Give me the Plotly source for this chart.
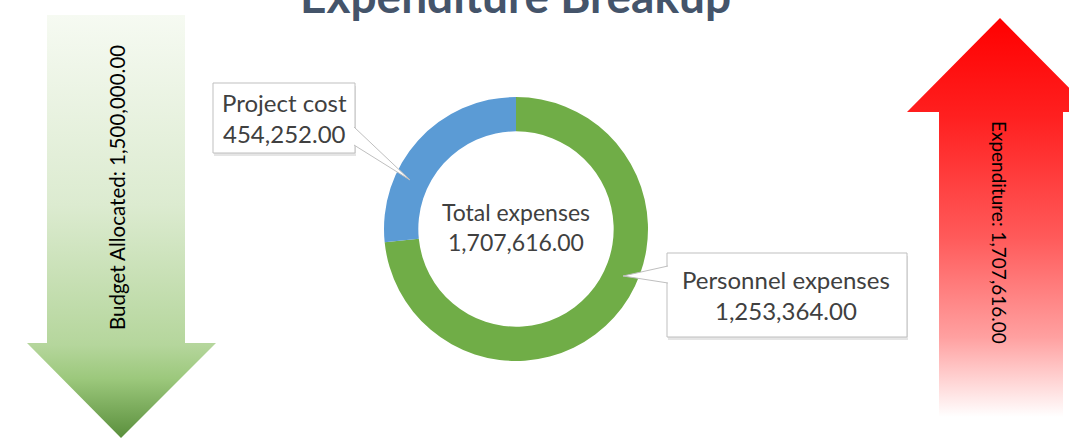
import plotly.graph_objects as go

# ---- data ----
categories = ["Personnel expenses", "Project cost"]
amounts = [1253364.00, 454252.00]
slice_colors = ["#70ad47", "#5b9bd5"]
budget_allocated = 1500000.00
expenditure = 1707616.00
title_text = "Expenditure Breakup"

W, H = 1069, 439
FONT = "Lato"
total = sum(amounts)


def money(v):
    return f"{v:,.2f}"


fig = go.Figure()

# ---- arrows (pixel geometry, y measured from the top) ----
down_x = [47, 185, 185, 216, 121, 27, 47, 47]
down_y = [15, 15, 343, 343, 438, 343, 343, 15]
fig.add_trace(go.Scatter(
    x=down_x, y=down_y, mode="lines", fill="toself", line=dict(width=0),
    fillgradient=dict(type="vertical", start=15, stop=438,
                      colorscale=[[0, "#f6faf2"], [0.45, "#dcebd0"],
                                  [0.78, "#b5d69c"], [0.86, "#9cc87c"],
                                  [1, "#5a8f3c"]]),
    hoverinfo="skip", showlegend=False))

up_x = [1000, 1093, 1063, 1063, 939, 939, 907, 1000]
up_y = [18, 112, 112, 417, 417, 112, 112, 18]
fig.add_trace(go.Scatter(
    x=up_x, y=up_y, mode="lines", fill="toself", line=dict(width=0),
    fillgradient=dict(type="vertical", start=18, stop=417,
                      colorscale=[[0, "#ff0000"], [0.25, "#ff2020"],
                                  [0.55, "#ff5a5a"], [0.8, "#ffa0a0"],
                                  [1, "#ffffff"]]),
    hoverinfo="skip", showlegend=False))

# ---- doughnut ----
cx, cy, R = 516, 229, 132
fig.add_trace(go.Pie(
    labels=categories, values=amounts, hole=0.74, sort=False,
    direction="clockwise", rotation=0,
    marker=dict(colors=slice_colors, line=dict(width=0)),
    textinfo="none", hoverinfo="label+value", showlegend=False,
    domain=dict(x=[(cx - R) / W, (cx + R) / W],
                y=[(H - cy - R) / H, (H - cy + R) / H])))

# ---- callout boxes ----
shapes = []


def callout(x0, y0, x1, y1, wedge):
    shapes.append(dict(type="rect", x0=x0 + 1, y0=y0 + 3, x1=x1 + 1, y1=y1 + 3,
                       xref="x", yref="y", layer="above",
                       fillcolor="rgba(0,0,0,0.10)", line=dict(width=0)))
    shapes.append(dict(type="rect", x0=x0, y0=y0, x1=x1, y1=y1,
                       xref="x", yref="y", layer="above",
                       fillcolor="white", line=dict(color="#bfbfbf", width=1)))
    (ax, ay), (tx, ty), (bx, by) = wedge
    shapes.append(dict(type="path", xref="x", yref="y", layer="above",
                       path=f"M{ax},{ay} L{tx},{ty} L{bx},{by}",
                       fillcolor="white", line=dict(color="#bfbfbf", width=1)))


callout(213, 83, 355, 153, [(354, 127), (410, 180), (354, 145)])
callout(667, 253, 907, 337, [(668, 266), (623, 276), (668, 283)])

annotations = [
    dict(x=284, y=118, text=f"{categories[1]}<br>{money(amounts[1])}",
         font=dict(family=FONT, size=24, color="#404040")),
    dict(x=786, y=295, text=f"{categories[0]}<br>{money(amounts[0])}",
         font=dict(family=FONT, size=24, color="#404040")),
    dict(x=cx, y=227, text=f"Total expenses<br>{money(total)}",
         font=dict(family=FONT, size=23, color="#404040")),
    dict(x=117, y=188, textangle=-90,
         text=f"Budget Allocated: {money(budget_allocated)}",
         font=dict(family=FONT, size=20.5, color="#000000")),
    dict(x=1000, y=232, textangle=90,
         text=f"Expenditure: {money(expenditure)}",
         font=dict(family=FONT, size=19, color="#000000")),
    dict(x=515, y=1, yshift=6, text=f"<b>{title_text}</b>",
         font=dict(family=FONT, size=46, color="#44546a")),
]
for a in annotations:
    a.update(xref="x", yref="y", showarrow=False, xanchor="center",
             yanchor="middle", align="center")

fig.update_layout(
    width=W, height=H, margin=dict(l=0, r=0, t=0, b=0),
    paper_bgcolor="white", plot_bgcolor="white",
    xaxis=dict(range=[0, W], visible=False, fixedrange=True),
    yaxis=dict(range=[H, 0], visible=False, fixedrange=True),
    shapes=shapes, annotations=annotations, showlegend=False,
)

fig.write_html("out.html")
